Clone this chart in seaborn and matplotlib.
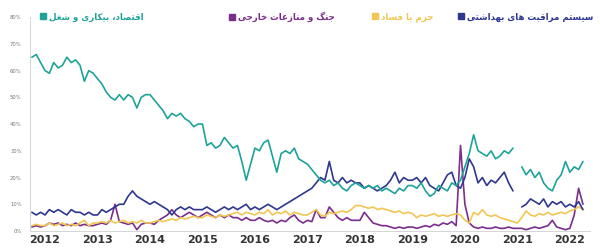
# weekly share of top "most important problem" answers, Iran 2011-2022

import numpy as np
import pandas as pd
import seaborn as sns
import matplotlib.pyplot as plt
from matplotlib.lines import Line2D

# monthly values, Oct 2011 .. Apr 2022, in percent
economy = [65, 66, 63,
           60, 59, 63, 61, 62, 65, 63, 64, 62, 56, 60, 59,
           57, 55, 52, 50, 49, 51, 49, 51, 50, 46, 50, 51,
           51, 49, 47, 45, 42, 44, 43, 44, 42, 41, 39, 40,
           40, 32, 33, 31, 32, 35, 33, 31, 32, 26, 19, 25,
           31, 30, 33, 34, 28, 22, 29, 30, 29, 31, 27, 26,
           25, 23, 21, 19, 18, 19, 17, 18, 16, 15, 17, 18,
           17, 16, 17, 16, 17, 15, 16, 15, 14, 16, 15, 17,
           17, 16, 18, 15, 13, 14, 17, 16, 15, 18, 17, 19,
           24, 29, 36, 30, 29, 28, 30, 27, 28, 30, 29, 31,
           np.nan, 24, 21, 23, 20, 22, 18, 16, 15, 19, 21, 26,
           22, 24, 23, 26]
health = [7, 6, 7,
          6, 8, 7, 8, 7, 6, 8, 7, 7, 6, 7, 6,
          6, 8, 7, 8, 9, 10, 10, 13, 15, 13, 12, 11,
          10, 11, 10, 9, 8, 6, 8, 9, 8, 9, 8, 8,
          8, 9, 8, 7, 8, 9, 8, 9, 8, 9, 10, 8,
          9, 8, 9, 10, 9, 8, 9, 10, 11, 12, 13, 14,
          15, 16, 18, 20, 19, 26, 19, 18, 20, 18, 19, 18,
          18, 16, 17, 16, 15, 16, 17, 19, 22, 18, 20, 19,
          19, 20, 18, 20, 17, 16, 15, 18, 21, 22, 17, 16,
          20, 27, 24, 18, 20, 17, 19, 18, 20, 22, 18, 15,
          np.nan, 9, 10, 12, 11, 10, 12, 9, 11, 10, 11, 9,
          10, 9, 11, 8]
war = [1.5, 2, 1.5,
       2, 3, 2.5, 3, 2, 2.5, 2, 3, 2, 2.5, 2, 2,
       2.5, 3, 2.5, 4, 10, 3.5, 3, 2.5, 3, 0.5, 2.5, 3,
       3, 2.5, 4, 5, 6, 8, 6, 5, 6, 7, 6, 5,
       6, 7, 6, 5, 6, 5, 6, 5, 5, 4, 5, 4,
       4, 5, 4, 3.5, 4, 3, 4, 3.5, 5, 6, 4, 3,
       4, 3.5, 8, 5, 5, 9, 7, 5, 4, 5, 4, 4,
       4, 7, 5, 3, 2.5, 2, 2, 1.5, 1, 1.5, 1, 1.5,
       1.5, 1, 1.5, 2, 1.5, 2.5, 2, 3, 2.5, 3.5, 2, 32,
       10, 3, 1.5, 1, 1.5, 1, 1, 1.5, 1, 1, 1.5, 1,
       1, 1, 0.5, 1, 1.5, 1, 1.5, 2, 4, 1.5, 1, 0.5,
       1, 6, 16, 10]
crime = [2, 2.5, 2,
         2, 3, 2, 2.5, 3, 2, 2.5, 2, 3, 4, 2, 3,
         3, 3.5, 3, 4, 3, 3.5, 4, 3, 3.5, 3, 4, 3,
         3, 3.5, 4, 3.5, 4, 4.5, 4, 5, 4.5, 5, 5.5, 5,
         5, 6, 5.5, 5, 6, 5.5, 6, 6.5, 7, 6, 7, 6.5,
         6, 7, 6.5, 8, 6, 7, 6.5, 7.5, 6, 7, 6.5, 6,
         6, 7, 8, 6, 5.5, 7, 6.5, 7, 7.5, 7, 8, 9.5,
         9.5, 9, 8.5, 9, 8, 8.5, 8, 7.5, 7, 7.5, 6.5, 7,
         6.5, 5, 6, 5.5, 6, 6.5, 5.5, 6, 5.5, 6, 6.5, 6,
         4, 3, 7, 6, 8, 6, 5.5, 6, 5, 4.5, 4, 3.5,
         3, 5, 7.5, 6, 5.5, 6.5, 6, 7, 6, 6.5, 7, 6.5,
         7.5, 8, 9, 8]

labels = ["اقتصاد، بیکاری و شغل", "جنگ و منازعات خارجی", "جرم یا فساد",
          "سیستم مراقبت های بهداشتی"]
colors = ["#1ea398", "#7b2d8c", "#f1c654", "#2e3790"]
years = list(range(2012, 2023))

# matplotlib has no arabic shaping, so pick the joined forms by hand
FORMS = {
    "ا": ("\uFE8D", "\uFE8E", None, None), "د": ("\uFEA9", "\uFEAA", None, None),
    "ر": ("\uFEAD", "\uFEAE", None, None), "ز": ("\uFEAF", "\uFEB0", None, None),
    "و": ("\uFEED", "\uFEEE", None, None),
    "ب": ("\uFE8F", "\uFE90", "\uFE91", "\uFE92"), "ت": ("\uFE95", "\uFE96", "\uFE97", "\uFE98"),
    "ج": ("\uFE9D", "\uFE9E", "\uFE9F", "\uFEA0"), "خ": ("\uFEA5", "\uFEA6", "\uFEA7", "\uFEA8"),
    "س": ("\uFEB1", "\uFEB2", "\uFEB3", "\uFEB4"), "ش": ("\uFEB5", "\uFEB6", "\uFEB7", "\uFEB8"),
    "ص": ("\uFEB9", "\uFEBA", "\uFEBB", "\uFEBC"), "ع": ("\uFEC9", "\uFECA", "\uFECB", "\uFECC"),
    "غ": ("\uFECD", "\uFECE", "\uFECF", "\uFED0"), "ف": ("\uFED1", "\uFED2", "\uFED3", "\uFED4"),
    "ق": ("\uFED5", "\uFED6", "\uFED7", "\uFED8"), "ل": ("\uFEDD", "\uFEDE", "\uFEDF", "\uFEE0"),
    "م": ("\uFEE1", "\uFEE2", "\uFEE3", "\uFEE4"), "ن": ("\uFEE5", "\uFEE6", "\uFEE7", "\uFEE8"),
    "ه": ("\uFEE9", "\uFEEA", "\uFEEB", "\uFEEC"), "ک": ("\uFB8E", "\uFB8F", "\uFB90", "\uFB91"),
    "گ": ("\uFB92", "\uFB93", "\uFB94", "\uFB95"), "ی": ("\uFBFC", "\uFBFD", "\uFBFE", "\uFBFF"),
}


def shape(s):
    out = []
    for i, c in enumerate(s):
        if c not in FORMS:
            out.append(c)
            continue
        iso, fin, ini, med = FORMS[c]
        prev = s[i - 1] if i > 0 else ""
        nxt = s[i + 1] if i + 1 < len(s) else ""
        jp = prev in FORMS and FORMS[prev][2] is not None
        jn = ini is not None and nxt in FORMS
        out.append(med if jp and jn else fin if jp else ini if jn else iso)
    return "".join(reversed(out))


months = pd.date_range("2011-10-01", periods=len(economy), freq="MS")
t = months.year + (months.month - 1) / 12

frames = []
for name, vals in zip(labels, [economy, war, crime, health]):
    v = np.array(vals, dtype=float) / 100
    seg = np.cumsum(np.isnan(v))
    frames.append(pd.DataFrame({"t": t, "value": v, "series": name,
                                "seg": [f"{name}-{s}" for s in seg]}))
df = pd.concat(frames, ignore_index=True).dropna()

sns.set_style("white")
plt.rcParams["font.family"] = ["DejaVu Sans"]

fig = plt.figure(figsize=(6, 2.48), dpi=100)
ax = fig.add_axes([0.05, 0.0685, 0.933, 0.8625])

draw_order = [labels[1], labels[2], labels[3], labels[0]]
for name in draw_order:
    sub = df[df["series"] == name]
    sns.lineplot(data=sub, x="t", y="value", units="seg", estimator=None,
                 color=colors[labels.index(name)], linewidth=1.2, ax=ax, legend=False)

ax.set_xlim(2011.714, 2022.38)
ax.set_ylim(0, 0.8)
ax.set_xticks(years)
ax.set_xticklabels([str(y) for y in years], fontsize=8, color="#333333", fontweight="bold")
ax.set_yticks(np.arange(0, 0.81, 0.1))
ax.set_yticklabels([f"{int(round(v * 100))}%" for v in np.arange(0, 0.81, 0.1)],
                   fontsize=3.8, color="#777777")
ax.tick_params(axis="x", length=0, pad=3)
ax.tick_params(axis="y", length=2, width=0.5, color="#cccccc", pad=4)
ax.set_xlabel("")
ax.set_ylabel("")
for side in ["top", "right"]:
    ax.spines[side].set_visible(False)
for side in ["left", "bottom"]:
    ax.spines[side].set_color("#d5d5d5")
    ax.spines[side].set_linewidth(0.7)

# one small legend per entry, so each sits where the reference has it
legend_x = [40, 229, 372, 458]
for lab, c, x0 in zip(labels, colors, legend_x):
    h = Line2D([], [], linestyle="none", marker="s", markersize=4.5,
               markerfacecolor=c, markeredgecolor=c)
    leg = fig.legend([h], [shape(lab)], frameon=False, loc="center left",
                     bbox_to_anchor=(x0 / 600, 1 - 17 / 248), fontsize=6.2,
                     handletextpad=0.2, borderpad=0, borderaxespad=0, handlelength=0.8)
    txt = leg.get_texts()[0]
    txt.set_color(c)
    txt.set_fontweight("bold")

fig.savefig("out.png", dpi=100)
